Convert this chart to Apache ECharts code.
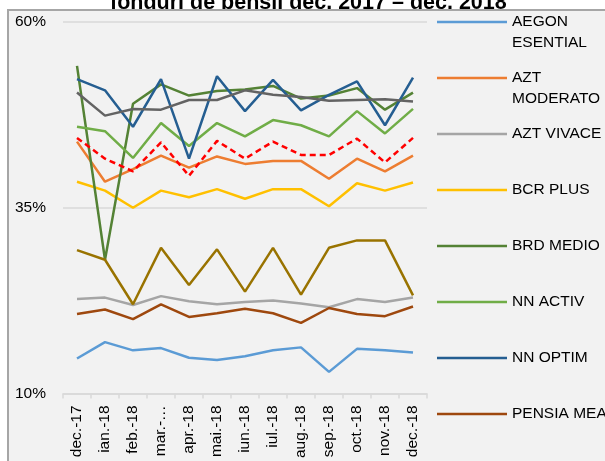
<!DOCTYPE html>
<html>
<head>
<meta charset="utf-8">
<script src="https://cdn.jsdelivr.net/npm/echarts@6/dist/echarts.min.js"></script>
<style>
html,body{margin:0;padding:0;background:#fff;}
#chart{width:605px;height:461px;}
</style>
</head>
<body>
<div id="chart"></div>
<script>
var FONT = "'Liberation Sans', Arial, sans-serif";
var titleText = 'fonduri de pensii dec. 2017 – dec. 2018';
var months = ['dec.-17','ian.-18','feb.-18','mar.-…','apr.-18','mai.-18','iun.-18','iul.-18','aug.-18','sep.-18','oct.-18','nov.-18','dec.-18'];
var yTicks = [10, 35, 60];

var aegonEsential   = [14.7, 16.9, 15.8, 16.1, 14.8, 14.5, 15.0, 15.8, 16.2, 12.9, 16.0, 15.8, 15.5];
var aztModerato     = [43.9, 38.5, 40.2, 42.0, 40.4, 41.9, 40.9, 41.3, 41.3, 38.9, 41.6, 39.9, 42.0];
var aztVivace       = [22.7, 22.9, 21.9, 23.1, 22.4, 22.0, 22.3, 22.5, 22.1, 21.6, 22.7, 22.3, 22.9];
var bcrPlus         = [38.5, 37.3, 35.0, 37.3, 36.4, 37.5, 36.2, 37.5, 37.5, 35.2, 38.3, 37.3, 38.4];
var brdMedio        = [54.1, 28.0, 49.0, 51.6, 50.1, 50.7, 50.9, 51.4, 49.7, 50.1, 51.1, 48.2, 50.5];
var nnActiv         = [45.9, 45.3, 41.7, 46.4, 43.3, 46.4, 44.6, 46.8, 46.1, 44.6, 48.0, 45.0, 48.3];
var nnOptim         = [52.3, 50.8, 45.9, 52.3, 41.6, 52.7, 48.0, 52.2, 48.1, 50.2, 52.0, 46.1, 52.5];
var pensiaMea       = [20.7, 21.3, 20.0, 22.0, 20.3, 20.8, 21.4, 20.8, 19.5, 21.5, 20.7, 20.4, 21.7];
var raiffeisen      = [50.5, 47.4, 48.3, 48.2, 49.5, 49.5, 50.8, 50.2, 49.9, 49.4, 49.5, 49.6, 49.3];
var stabil          = [29.3, 28.0, 22.0, 29.6, 24.6, 29.4, 23.7, 29.6, 23.3, 29.6, 30.6, 30.6, 23.2];
var media           = [44.4, 41.6, 39.9, 43.8, 39.3, 44.0, 41.6, 43.9, 42.1, 42.1, 44.3, 41.1, 44.4];

var seriesNames = ['AEGON ESENTIAL','AZT MODERATO','AZT VIVACE','BCR PLUS','BRD MEDIO','NN ACTIV','NN OPTIM','PENSIA MEA','RAIFFEISEN ACUMULARE','STABIL','MEDIA'];
var seriesData  = [aegonEsential, aztModerato, aztVivace, bcrPlus, brdMedio, nnActiv, nnOptim, pensiaMea, raiffeisen, stabil, media];
var seriesColors = ['#5B9BD5','#ED7D31','#A5A5A5','#FFC000','#548235','#70AD47','#255E91','#9E480E','#636363','#997300','#FF0000'];
var legendNames = seriesNames.slice(0, 8);
var legendWrap = {'AEGON ESENTIAL': ['AEGON','ESENTIAL'], 'AZT MODERATO': ['AZT','MODERATO']};

var chart = echarts.init(document.getElementById('chart'), null, {renderer: 'canvas'});

var series = seriesNames.map(function (name, i) {
  return {
    name: name,
    type: 'line',
    data: seriesData[i],
    symbol: 'none',
    showSymbol: false,
    z: 4,
    color: seriesColors[i],
    itemStyle: {color: seriesColors[i]},
    lineStyle: {color: seriesColors[i], width: 2.5, type: i === 10 ? [6, 4] : 'solid'},
    emphasis: {disabled: true},
    animation: false
  };
});

chart.setOption({
  animation: false,
  backgroundColor: '#ffffff',
  title: {
    text: titleText,
    left: 110,
    top: -8,
    padding: 0,
    z: 0,
    textStyle: {fontFamily: FONT, fontSize: 21.5, fontWeight: 'bold', color: '#000', lineHeight: 21.5}
  },
  graphic: [{
    type: 'rect',
    z: 1,
    silent: true,
    shape: {x: 8, y: 10, width: 620, height: 470},
    style: {fill: '#f2f2f2', stroke: '#a6a6a6', lineWidth: 2}
  }],
  grid: {left: 63, right: 178, top: 22, bottom: 65, containLabel: false},
  legend: {
    data: legendNames,
    orient: 'vertical',
    left: 437,
    top: -9.5,
    padding: 0,
    icon: 'rect',
    itemWidth: 70,
    itemHeight: 2.5,
    itemGap: -7,
    z: 5,
    selectedMode: false,
    formatter: function (name) {
      var parts = legendWrap[name] || [name, ''];
      return '\n' + parts[0] + '\n' + parts[1];
    },
    textStyle: {fontFamily: FONT, fontSize: 15.5, color: '#000', lineHeight: 21}
  },
  xAxis: {
    type: 'category',
    data: months,
    boundaryGap: true,
    z: 3,
    axisLine: {show: true, lineStyle: {color: '#d9d9d9', width: 1.5}},
    axisTick: {show: true, length: 5, interval: 0, lineStyle: {color: '#d9d9d9', width: 1.5}},
    axisLabel: {rotate: 90, interval: 0, margin: 12, fontFamily: FONT, fontSize: 15.5, color: '#000'},
    splitLine: {show: false}
  },
  yAxis: {
    type: 'value',
    min: yTicks[0],
    max: yTicks[yTicks.length - 1],
    interval: yTicks[1] - yTicks[0],
    z: 3,
    axisLine: {show: false},
    axisTick: {show: false},
    axisLabel: {formatter: '{value}%', margin: 17, fontFamily: FONT, fontSize: 15.5, color: '#000'},
    splitLine: {show: true, lineStyle: {color: '#d9d9d9', width: 1.5}}
  },
  series: series
});
</script>
</body>
</html>
